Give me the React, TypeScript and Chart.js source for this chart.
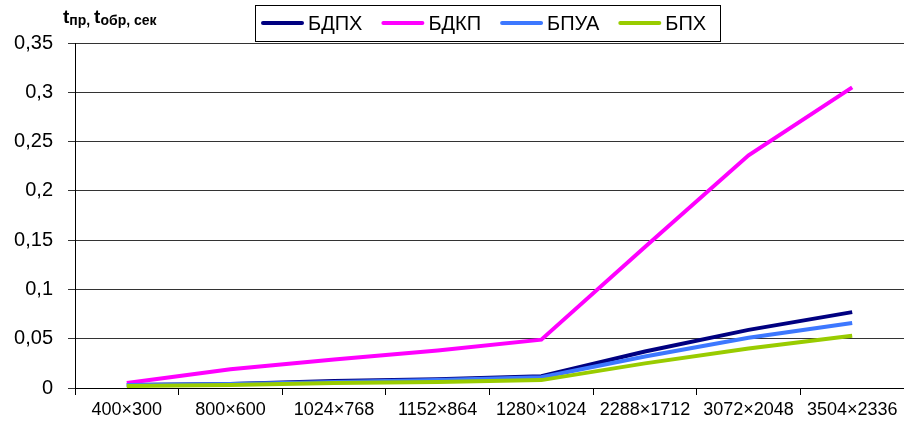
import React, { useEffect, useRef } from "react";
import { Chart, registerables } from "chart.js";

Chart.register(...registerables);

const categories = ["400×300", "800×600", "1024×768", "1152×864", "1280×1024", "2288×1712", "3072×2048", "3504×2336"];
const seriesNames = ["БДПХ", "БДКП", "БПУА", "БПХ"];
const bdph = [0.003, 0.004, 0.007, 0.009, 0.012, 0.037, 0.059, 0.077];
const bdkp = [0.005, 0.019, 0.029, 0.038, 0.049, 0.143, 0.236, 0.305];
const bpua = [0.003, 0.004, 0.006, 0.008, 0.011, 0.032, 0.051, 0.066];
const bpx = [0.002, 0.003, 0.005, 0.006, 0.008, 0.025, 0.04, 0.053];
const colors = ["#000080", "#FF00FF", "#3D78FF", "#99CC00"];

const FONT = "'Liberation Sans', Arial, sans-serif";

const legendPlugin = {
  id: "boxLegend",
  afterDraw(chart: any) {
    const ctx = chart.ctx;
    ctx.save();
    ctx.strokeStyle = "#000";
    ctx.lineWidth = 1;
    ctx.strokeRect(255.5, 5.5, 465, 36);
    ctx.font = `20px ${FONT}`;
    ctx.textBaseline = "middle";
    ctx.textAlign = "left";
    let x = 263;
    const y = 23;
    chart.data.datasets.forEach((ds: any) => {
      ctx.strokeStyle = ds.borderColor;
      ctx.lineWidth = 4;
      ctx.lineCap = "round";
      ctx.beginPath();
      ctx.moveTo(x, y);
      ctx.lineTo(x + 39, y);
      ctx.stroke();
      ctx.fillStyle = "#000";
      ctx.fillText(ds.label, x + 45, y + 1);
      x += 45 + ctx.measureText(ds.label).width + 21;
    });
    ctx.restore();
  },
};

const titlePlugin = {
  id: "axisTitle",
  afterDraw(chart: any) {
    const ctx = chart.ctx;
    ctx.save();
    ctx.fillStyle = "#000";
    ctx.textBaseline = "alphabetic";
    ctx.textAlign = "left";
    const parts: [string, number][] = [
      ["t", 19],
      ["пр, ", 14],
      ["t", 19],
      ["обр, сек", 14],
    ];
    let x = 63;
    parts.forEach(([t, s]) => {
      ctx.font = `bold ${s}px ${FONT}`;
      ctx.fillText(t, x, s === 19 ? 23 : 25);
      x += ctx.measureText(t).width;
    });
    ctx.restore();
  },
};

export default function App() {
  const ref = useRef<HTMLCanvasElement>(null);
  useEffect(() => {
    if (!ref.current) return;
    const data = [bdph, bdkp, bpua, bpx];
    const orders = [4, 3, 2, 1];
    const chart = new Chart(ref.current, {
      type: "line",
      data: {
        labels: categories,
        datasets: seriesNames.map((n, i) => ({
          label: n,
          data: data[i],
          borderColor: colors[i],
          backgroundColor: colors[i],
          borderWidth: 4,
          pointRadius: 0,
          tension: 0,
          order: orders[i],
        })),
      },
      options: {
        animation: false,
        responsive: true,
        maintainAspectRatio: false,
        layout: { padding: { top: 43, right: 0, left: 0, bottom: 0 } },
        plugins: { legend: { display: false }, tooltip: { enabled: false } },
        scales: {
          x: {
            offset: true,
            afterFit: (s: any) => {
              s.height = 35;
            },
            grid: {
              offset: true,
              drawOnChartArea: false,
              drawTicks: true,
              tickLength: 7,
              color: "#000",
            },
            border: { color: "#000", width: 1 },
            ticks: {
              color: "#000",
              font: { family: FONT, size: 18 },
              padding: 4,
              maxRotation: 0,
              autoSkip: false,
            },
          },
          y: {
            min: 0,
            max: 0.35,
            afterFit: (s: any) => {
              s.width = 75;
            },
            grid: { color: "#333", tickLength: 7, drawTicks: true },
            border: { color: "#000", width: 1 },
            ticks: {
              stepSize: 0.05,
              color: "#000",
              padding: 15,
              font: { family: FONT, size: 20 },
              callback: (v: any) => String(Math.round(Number(v) * 100) / 100).replace(".", ","),
            },
          },
        },
      },
      plugins: [legendPlugin, titlePlugin],
    });
    return () => chart.destroy();
  }, []);
  return (
    <div style={{ position: "fixed", left: 0, top: 0, width: 904, height: 423, background: "#fff" }}>
      <canvas ref={ref} />
    </div>
  );
}
